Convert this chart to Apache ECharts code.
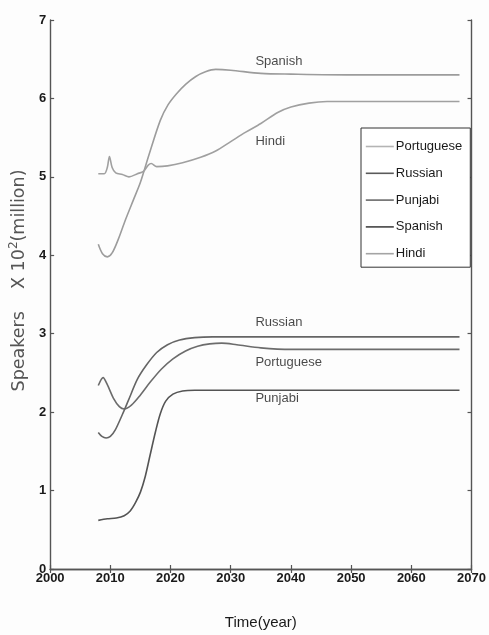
<!DOCTYPE html>
<html>
<head>
<meta charset="utf-8">
<script src="https://cdn.jsdelivr.net/npm/echarts@6/dist/echarts.min.js"></script>
<style>
  html, body { margin: 0; padding: 0; background: #fdfdfd; }
  #chart { width: 489px; height: 635px; }
</style>
</head>
<body>
<div id="chart"></div>
<script>
// Projected speakers (hundreds of millions) by year
const portuguese = [[2008,2.34],[2008.8,2.44],[2009.5,2.35],[2010.5,2.18],[2011.5,2.07],[2012.3,2.04],[2013.5,2.09],[2015,2.22],[2016.6,2.38],[2018.5,2.55],[2020.4,2.68],[2022.5,2.78],[2024.5,2.84],[2026.5,2.87],[2028.5,2.88],[2031,2.86],[2035,2.82],[2040,2.80],[2050,2.80],[2068,2.80]];
const russian = [[2008,1.74],[2008.6,1.69],[2009.3,1.67],[2010,1.69],[2010.8,1.77],[2012,1.97],[2013,2.15],[2014.5,2.42],[2016,2.6],[2017.7,2.76],[2019.5,2.86],[2021.5,2.92],[2024,2.95],[2027,2.96],[2035,2.96],[2050,2.96],[2068,2.96]];
const punjabi = [[2008,0.62],[2009.5,0.64],[2011,0.65],[2012.3,0.68],[2013.3,0.74],[2014.2,0.85],[2015,0.98],[2015.8,1.18],[2016.6,1.45],[2017.5,1.75],[2018.3,1.98],[2019.2,2.14],[2020.4,2.23],[2022,2.27],[2024,2.28],[2040,2.28],[2068,2.28]];
const spanish = [[2008,4.14],[2008.7,4.02],[2009.5,3.98],[2010.3,4.03],[2011.3,4.2],[2012.5,4.45],[2013.8,4.7],[2015,4.93],[2016.5,5.3],[2018.3,5.72],[2019.6,5.92],[2021,6.06],[2022.5,6.18],[2024.2,6.28],[2025.8,6.34],[2027.5,6.37],[2030,6.36],[2035,6.32],[2040,6.31],[2050,6.30],[2068,6.30]];
const hindi = [[2008,5.04],[2009,5.04],[2009.5,5.12],[2009.85,5.26],[2010.3,5.12],[2010.9,5.05],[2012,5.03],[2013.1,5.0],[2014.5,5.04],[2015.5,5.07],[2016.3,5.15],[2016.8,5.17],[2017.7,5.13],[2019.5,5.14],[2022,5.18],[2025,5.25],[2027.5,5.33],[2030,5.45],[2032.5,5.57],[2035,5.68],[2037.8,5.82],[2040,5.89],[2043,5.94],[2046,5.96],[2055,5.96],[2068,5.96]];

const legendOrder = ['Portuguese', 'Russian', 'Punjabi', 'Spanish', 'Hindi'];
// In-plot curve labels: [year, value, text]
const curveLabels = [[2034.1,6.47,'Spanish'],[2034.1,5.45,'Hindi'],[2034.1,3.14,'Russian'],[2034.1,2.63,'Portuguese'],[2034.1,2.17,'Punjabi']];
const xTicks = { min: 2000, max: 2070, interval: 10 };
const yTicks = { min: 0, max: 7, interval: 1 };

const sans = '"Liberation Sans", Arial, sans-serif';
const lineColors = { Portuguese: '#6c6c6c', Russian: '#656565', Punjabi: '#545454', Spanish: '#9c9c9c', Hindi: '#a0a0a0' };
const legendColors = { Portuguese: '#b4b4b4', Russian: '#5a5a5a', Punjabi: '#6a6a6a', Spanish: '#444444', Hindi: '#a4a4a4' };
const seriesData = { Portuguese: portuguese, Russian: russian, Punjabi: punjabi, Spanish: spanish, Hindi: hindi };

const axisLine = { show: true, lineStyle: { color: '#555', width: 1.4 } };
const tick = { show: true, inside: true, length: 4, lineStyle: { color: '#555', width: 1.2 } };

const chart = echarts.init(document.getElementById('chart'));
chart.setOption({
  backgroundColor: '#fdfdfd',
  animation: false,
  grid: { left: 44, right: 15, top: 20, bottom: 66 },
  legend: {
    orient: 'vertical',
    left: 361,
    top: 128,
    padding: [12, 8, 7, 4],
    itemWidth: 28,
    itemHeight: 14,
    itemGap: 13.8,
    borderColor: '#333',
    borderWidth: 1,
    backgroundColor: '#ffffff',
    textStyle: { fontFamily: sans, fontSize: 13, color: '#1a1a1a', padding: [0, 0, 0, -3] },
    data: legendOrder.map(n => ({ name: n, itemStyle: { opacity: 0 }, lineStyle: { color: legendColors[n], width: 1.6 } }))
  },
  xAxis: [
    {
      type: 'value', position: 'bottom', ...xTicks,
      axisLine, axisTick: tick, splitLine: { show: false },
      axisLabel: { fontFamily: sans, fontSize: 13, fontWeight: 'bold', color: '#1a1a1a', margin: 3, formatter: v => String(v) },
      name: 'Time(year)', nameLocation: 'middle', nameGap: 46,
      nameTextStyle: { fontFamily: sans, fontSize: 15, color: '#1a1a1a' }
    },
    {
      type: 'value', position: 'top', ...xTicks,
      axisLine, axisTick: tick, splitLine: { show: false }, axisLabel: { show: false }
    }
  ],
  yAxis: [
    {
      type: 'value', position: 'left', ...yTicks,
      axisLine, axisTick: tick, splitLine: { show: false },
      axisLabel: { fontFamily: sans, fontSize: 13, fontWeight: 'bold', color: '#1a1a1a', margin: 4 },
      name: 'Speakers    X 10{sup|2}(million)', nameLocation: 'middle', nameGap: 19,
      nameTextStyle: {
        fontFamily: '"DejaVu Sans", sans-serif', fontSize: 17.5, color: '#555',
        padding: [0, 0, 0, 28],
        rich: { sup: { fontFamily: '"DejaVu Sans", sans-serif', fontSize: 12, color: '#555', verticalAlign: 'top', padding: [0, 0, 10, 0] } }
      }
    },
    {
      type: 'value', position: 'right', ...yTicks,
      axisLine, axisTick: tick, splitLine: { show: false }, axisLabel: { show: false }
    }
  ],
  series: legendOrder.map(n => ({
    name: n,
    type: 'line',
    data: seriesData[n],
    showSymbol: false,
    symbol: 'none',
    smooth: 0.3,
    lineStyle: { color: lineColors[n], width: 1.6 },
    itemStyle: { color: lineColors[n] },
    z: 3
  })).concat([{
    type: 'scatter',
    symbolSize: 0,
    silent: true,
    data: curveLabels.map(d => ({ value: [d[0], d[1]], name: d[2] })),
    label: {
      show: true, position: 'right', distance: 0,
      formatter: p => p.name,
      fontFamily: sans, fontSize: 13, color: '#1a1a1a'
    },
    z: 4
  }])
});
</script>
</body>
</html>
